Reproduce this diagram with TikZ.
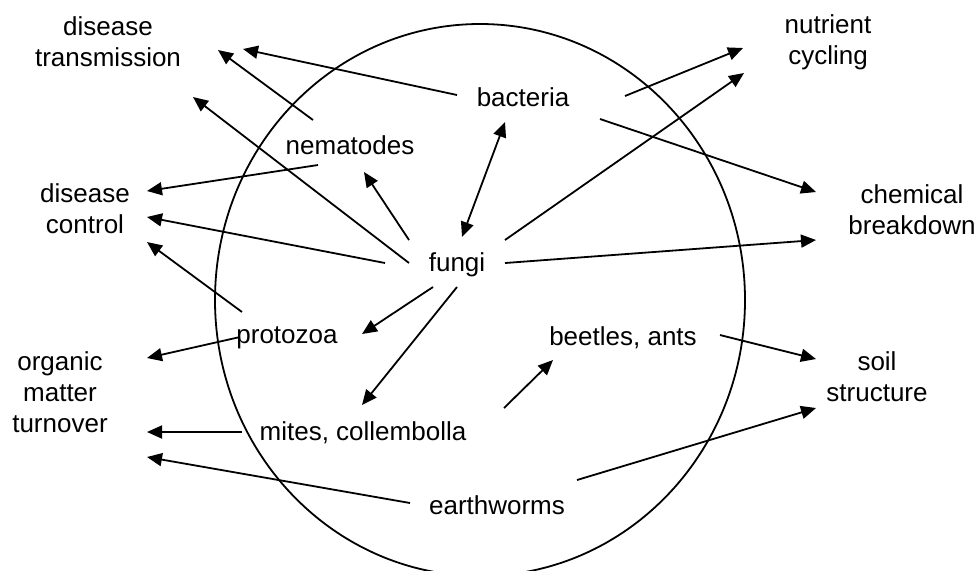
\documentclass[tikz,border=0pt]{standalone}
\usepackage{fontspec}
\setmainfont{Liberation Sans}
\usepackage{tikz}
\usetikzlibrary{arrows.meta, calc}
\tikzset{
  lbl/.style={align=center, inner sep=0pt,
    font=\fontsize{13}{15.5}\selectfont},
  arrow/.style={-{Triangle[length=7.5pt, width=6.5pt]}, line width=0.9pt},
  twoway/.style={{Triangle[length=7.5pt, width=6.5pt]}-{Triangle[length=7.5pt, width=6.5pt]}, line width=0.9pt}
}

\begin{document}
\begin{tikzpicture}[x=0.5pt, y=-0.5pt]
  \useasboundingbox (0,0) rectangle (979,570);

  % Soil
  \draw[line width=0.9pt] (480,300) ellipse [x radius=265, y radius=276];

  % Organisms
  \node[lbl] (bact)   at (523,97)  {bacteria};
  \node[lbl] (nema)   at (350,145) {nematodes};
  \node[lbl] (fungi)  at (457,265) {fungi};
  \node[lbl] (proto)  at (287,338) {protozoa};
  \node[lbl] (beetle) at (623,338) {beetles, ants};
  \node[lbl] (mites)  at (363,433) {mites, collembolla};
  \node[lbl] (worms)  at (497,505) {earthworms};

  % Functions
  \node[lbl] (dtrans)  at (108,42)  {disease\\transmission};
  \node[lbl] (dctrl)   at (85,209)  {disease\\control};
  \node[lbl] (organic) at (60,392)  {organic\\matter\\turnover};
  \node[lbl] (nutr)    at (828,42)  {nutrient\\cycling};
  \node[lbl] (chem)    at (912,210) {chemical\\breakdown};
  \node[lbl] (soil)    at (877,377) {soil\\structure};

  % Disease transmission
  \draw[arrow] ($(bact)+(-66,-2)$) -- ($(dtrans)+(135,7)$);
  \draw[arrow] ($(nema)+(-37,-25)$) -- ($(dtrans)+(110,8)$);
  \draw[arrow] ($(fungi)+(-48,-2)$) -- ($(dtrans)+(85,55)$);

  % Disease control
  \draw[arrow] ($(nema)+(-32,20)$) -- ($(dctrl)+(62,-18)$);
  \draw[arrow] ($(fungi)+(-72,-2)$) -- ($(dctrl)+(62,8)$);
  \draw[arrow] ($(proto)+(-45,-26)$) -- ($(dctrl)+(62,33)$);

  % Between organisms
  \draw[arrow] ($(fungi)+(-48,-25)$) -- ($(nema)+(14,27)$);
  \draw[twoway] ($(fungi)+(5,-28)$) -- ($(bact)+(-18,25)$);
  \draw[arrow] ($(fungi)+(-24,22)$) -- ($(proto)+(75,-4)$);
  \draw[arrow] ($(fungi)+(0,22)$) -- ($(mites)+(-1,-28)$);
  \draw[arrow] ($(mites)+(141,-25)$) -- ($(beetle)+(-70,22)$);

  % Nutrient cycling, chemical breakdown
  \draw[arrow] ($(bact)+(102,-1)$) -- ($(nutr)+(-85,6)$);
  \draw[arrow] ($(fungi)+(48,-25)$) -- ($(nutr)+(-84,31)$);
  \draw[arrow] ($(bact)+(77,22)$) -- ($(chem)+(-96,-18)$);
  \draw[arrow] ($(fungi)+(48,-2)$) -- ($(chem)+(-96,30)$);

  % Organic matter turnover
  \draw[arrow] ($(proto)+(-47,-1)$) -- ($(organic)+(87,-34)$);
  \draw[arrow] ($(mites)+(-121,-1)$) -- ($(organic)+(87,40)$);
  \draw[arrow] ($(worms)+(-87,-2)$) -- ($(organic)+(87,65)$);

  % Soil structure
  \draw[arrow] ($(beetle)+(97,-3)$) -- ($(soil)+(-61,-18)$);
  \draw[arrow] ($(worms)+(80,-25)$) -- ($(soil)+(-61,31)$);
\end{tikzpicture}
\end{document}
